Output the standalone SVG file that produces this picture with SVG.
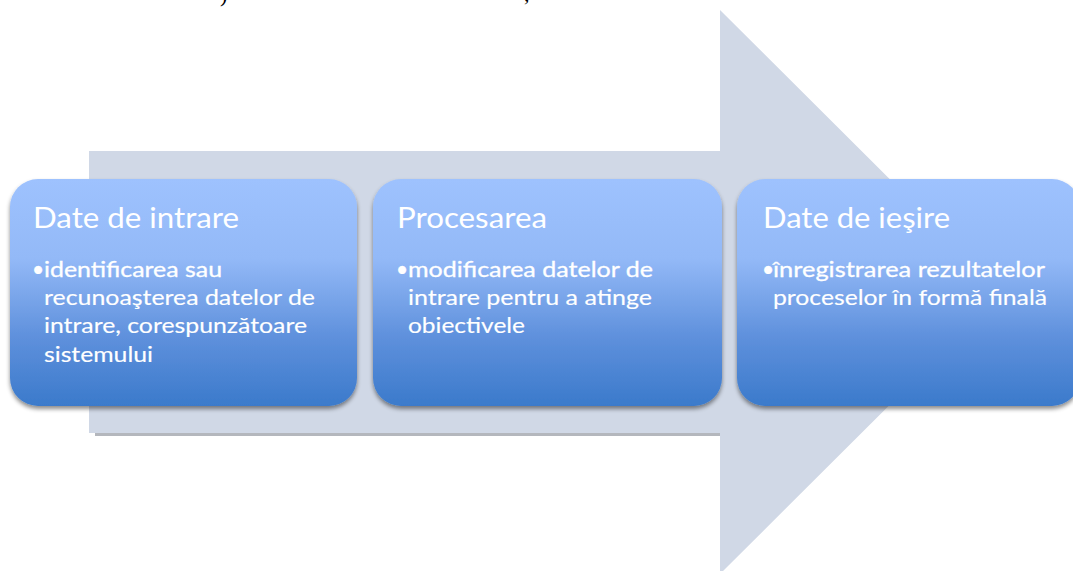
<svg xmlns="http://www.w3.org/2000/svg" width="1073" height="571" viewBox="0 0 1073 571">
  <defs>
    <linearGradient id="boxFill" x1="0" y1="0" x2="0" y2="1">
      <stop offset="0" stop-color="#9EC2FE"/>
      <stop offset="0.35" stop-color="#93B9F7"/>
      <stop offset="0.7" stop-color="#5E90DC"/>
      <stop offset="1" stop-color="#3B7ACB"/>
    </linearGradient>
    <filter id="boxShadow" x="-5%" y="-5%" width="110%" height="115%">
      <feDropShadow dx="0" dy="3" stdDeviation="2.2" flood-color="#000000" flood-opacity="0.45"/>
    </filter>
    <clipPath id="page">
      <rect x="0" y="0" width="1073" height="571"/>
    </clipPath>
  </defs>
  <style>
    .title { font-family: Lato, "Liberation Sans", sans-serif; font-size: 29px; fill: #FFFFFF; }
    .item { font-family: Lato, "Liberation Sans", sans-serif; font-size: 21px; fill: #FFFFFF; stroke: #FFFFFF; stroke-width: 0.15; }
    .lead { stroke-width: 0.3; }
    .box { fill: url(#boxFill); filter: url(#boxShadow); }
    .edge-text { font-family: "Liberation Serif", serif; font-size: 22px; fill: #000000; }
  </style>

  <rect x="0" y="0" width="1073" height="571" fill="#FFFFFF"/>

  <!-- tail of the line of text above the figure -->
  <g clip-path="url(#page)">
    <text class="edge-text" x="220" y="2">)</text>
    <text class="edge-text" x="524" y="1">,</text>
  </g>

  <!-- wide process arrow behind the three stages -->
  <g id="connectors" clip-path="url(#page)">
    <rect x="95" y="433" width="625" height="3" fill="#B4B7BD"/>
    <polygon points="89,151 720,151 720,10 1003,292 720,574 720,433 89,433" fill="#D0D8E6"/>
  </g>

  <g id="stage-input">
    <rect class="box" x="10" y="179" width="347" height="227" rx="28" ry="28"/>
    <text class="title" x="33" y="228" textLength="206" lengthAdjust="spacingAndGlyphs">Date de intrare</text>
    <text class="item lead" x="32" y="277">•</text>
    <text class="item lead" x="44" y="277" textLength="178" lengthAdjust="spacingAndGlyphs">identificarea sau</text>
    <text class="item" x="44" y="305" textLength="271" lengthAdjust="spacingAndGlyphs">recunoaşterea datelor de</text>
    <text class="item" x="44" y="333" textLength="263" lengthAdjust="spacingAndGlyphs">intrare, corespunzătoare</text>
    <text class="item" x="44" y="362" textLength="109" lengthAdjust="spacingAndGlyphs">sistemului</text>
  </g>

  <g id="stage-processing">
    <rect class="box" x="373" y="179" width="349" height="227" rx="28" ry="28"/>
    <text class="title" x="397" y="228" textLength="150" lengthAdjust="spacingAndGlyphs">Procesarea</text>
    <text class="item lead" x="396" y="277">•</text>
    <text class="item lead" x="408" y="277" textLength="245" lengthAdjust="spacingAndGlyphs">modificarea datelor de</text>
    <text class="item" x="408" y="305" textLength="244" lengthAdjust="spacingAndGlyphs">intrare pentru a atinge</text>
    <text class="item" x="408" y="333" textLength="117" lengthAdjust="spacingAndGlyphs">obiectivele</text>
  </g>

  <g id="stage-output">
    <rect class="box" x="737" y="179" width="343" height="227" rx="28" ry="28"/>
    <text class="title" x="763" y="228" textLength="187" lengthAdjust="spacingAndGlyphs">Date de ieşire</text>
    <text class="item lead" x="762" y="277">•</text>
    <text class="item lead" x="773" y="277" textLength="272" lengthAdjust="spacingAndGlyphs">înregistrarea rezultatelor</text>
    <text class="item" x="773" y="305" textLength="274" lengthAdjust="spacingAndGlyphs">proceselor în formă finală</text>
  </g>
</svg>
